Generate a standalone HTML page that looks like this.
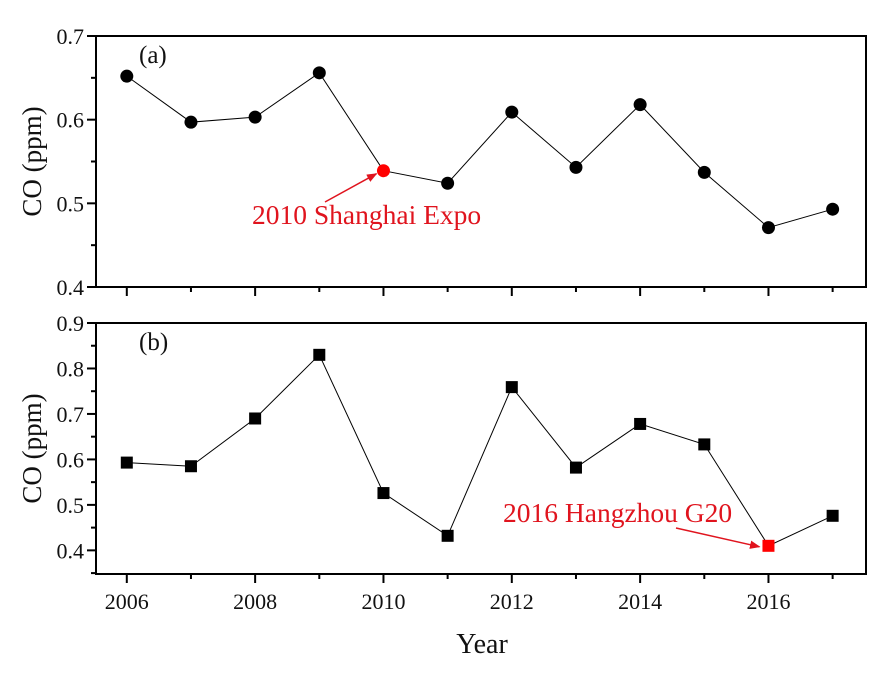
<!DOCTYPE html>
<html><head><meta charset="utf-8"><style>
body{margin:0;background:#fff;width:890px;height:682px;overflow:hidden}
text{font-family:"Liberation Serif",serif;fill:#111}
</style></head><body>
<svg id="chart" width="890" height="682" xmlns="http://www.w3.org/2000/svg">
<defs><marker id="ah" viewBox="0 0 10 10" refX="9" refY="5" markerWidth="7" markerHeight="7" orient="auto"><path d="M0,1 L10,5 L0,9 z" fill="#e0141e"/></marker></defs>
</svg>
<script>
const years=[2006,2007,2008,2009,2010,2011,2012,2013,2014,2015,2016,2017];
const coA=[0.652,0.597,0.603,0.656,0.539,0.524,0.609,0.543,0.618,0.537,0.471,0.493];
const coB=[0.593,0.585,0.690,0.830,0.526,0.432,0.759,0.582,0.678,0.633,0.410,0.476];
const xTicks=[2006,2008,2010,2012,2014,2016];
const yTicksA=[0.4,0.5,0.6,0.7];
const yTicksB=[0.4,0.5,0.6,0.7,0.8,0.9];
const highlightA=2010, highlightB=2016;
const svg=document.getElementById('chart');
const NS='http://www.w3.org/2000/svg';
function mk(t,a,p){const e=document.createElementNS(NS,t);for(const k in a)e.setAttribute(k,a[k]);(p||svg).appendChild(e);return e;}
const L=96,R=866;
const x=v=>L+(v-2005.52)/12*(R-L);
function panel(vals,ymin,ymax,top,bot,ticks,minorStep,shape,hl,label,name){
  const y=v=>bot-(v-ymin)/(ymax-ymin)*(bot-top);
  const g=mk('g',{});
  
  
  const f=mk('rect',{x:L,y:top,width:R-L,height:bot-top,fill:'none',stroke:'#000','stroke-width':2},g);
  
  for(let v=Math.ceil(ymin/minorStep-1e-6)*minorStep;v<=ymax+1e-6;v+=minorStep){
    const maj=ticks.some(t=>Math.abs(t-v)<1e-6);
    mk('line',{x1:L,x2:L-(maj?9:5),y1:y(v),y2:y(v),stroke:'#000','stroke-width':2},g);
  }
  ticks.forEach(t=>{const e=mk('text',{x:L-12,y:y(t)+8,'text-anchor':'end','font-size':22},g);e.textContent=t.toFixed(1);
    });
  years.forEach(yr=>{const maj=xTicks.includes(yr);mk('line',{x1:x(yr),x2:x(yr),y1:bot,y2:bot+(maj?9:5),stroke:'#000','stroke-width':2},g);});
  const yl=mk('text',{x:0,y:0,transform:`translate(41,${(top+bot)/2}) rotate(-90)`,'text-anchor':'middle','font-size':27},g);
  yl.textContent='CO (ppm)';
  const pl=mk('text',{x:139,y:top+27,'font-size':25},g);pl.textContent=label;
  
  const ln=mk('polyline',{points:vals.map((v,i)=>x(years[i])+','+y(v)).join(' '),fill:'none',stroke:'#000','stroke-width':1},g);
  
  vals.forEach((v,i)=>{
    const c=years[i]===hl?'#f00':'#000';
    let m;
    if(shape==='circle')m=mk('circle',{cx:x(years[i]),cy:y(v),r:6.5,fill:c},g);
    else m=mk('rect',{x:x(years[i])-6,y:y(v)-6,width:12,height:12,fill:c},g);
    
  });
  return y;
}
const yA=panel(coA,0.4,0.7,36,287,yTicksA,0.05,'circle',highlightA,'(a)','panel-a');
const yB=panel(coB,0.348,0.9,323,574,yTicksB,0.05,'square',highlightB,'(b)','panel-b');
xTicks.forEach(t=>{const e=mk('text',{x:x(t),y:609,'text-anchor':'middle','font-size':22});e.textContent=t;
  });
const xt=mk('text',{x:482,y:653,'text-anchor':'middle','font-size':28});xt.textContent='Year';

const iA=years.indexOf(highlightA),iB=years.indexOf(highlightB);
const a1=mk('text',{x:252,y:224,'font-size':27.5,style:'fill:#e0141e'});a1.textContent='2010 Shanghai Expo';

const ar1=mk('line',{x1:325,y1:202,x2:x(highlightA)-7,y2:yA(coA[iA])+3,stroke:'#e0141e','stroke-width':1.5,'marker-end':'url(#ah)'});

const a2=mk('text',{x:503,y:522,'font-size':27.5,style:'fill:#e0141e'});a2.textContent='2016 Hangzhou G20';

const ar2=mk('line',{x1:676,y1:528,x2:x(highlightB)-9,y2:yB(coB[iB])+1,stroke:'#e0141e','stroke-width':1.5,'marker-end':'url(#ah)'});

</script>
</body></html>
